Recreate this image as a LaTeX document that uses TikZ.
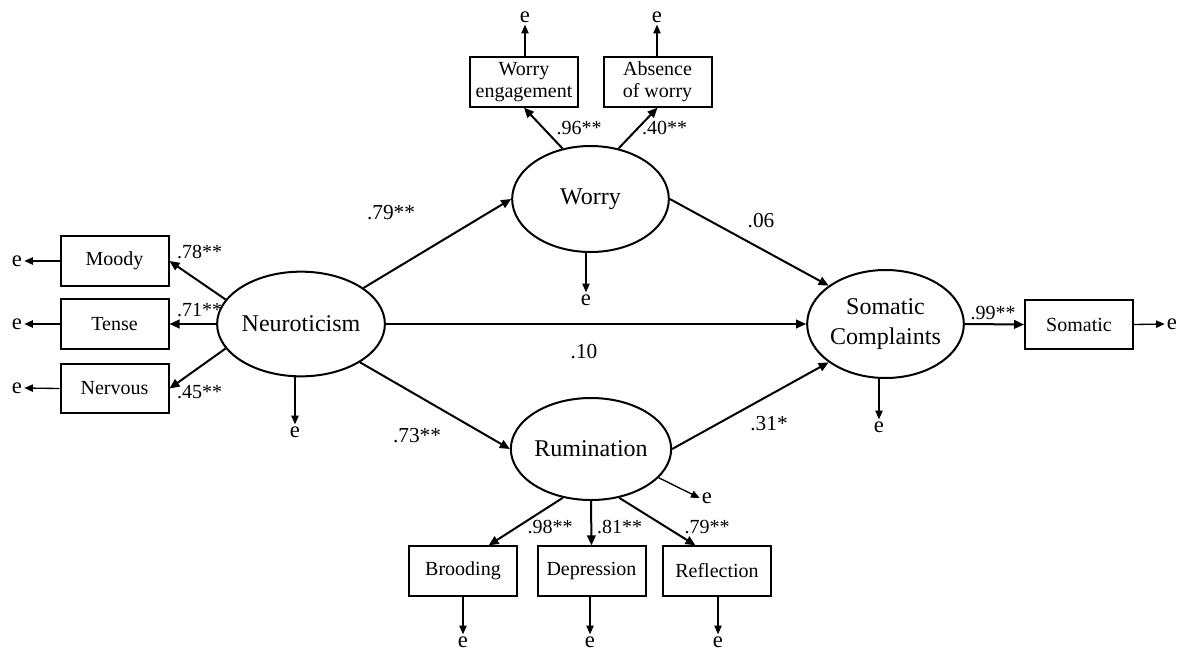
\documentclass[tikz,border=0pt]{standalone}
\usepackage{fontspec}
\setmainfont{Liberation Serif}
\usetikzlibrary{arrows.meta,shapes.geometric}
\begin{document}
\begin{tikzpicture}[x=0.75pt,y=-0.75pt,
 lat/.style={ellipse,draw,line width=1.5pt,minimum width=117.5pt,minimum height=78.5pt,inner sep=0pt,font=\fontsize{18}{22}\selectfont,align=center},
 obs/.style={rectangle,draw,line width=1.5pt,minimum width=81pt,minimum height=37pt,inner sep=0pt,font=\fontsize{15}{16.5}\selectfont,align=center},
 sem/.style={line width=1.5pt,-{Triangle[length=7.5pt,width=6.5pt]}},
 semthin/.style={line width=1.2pt,-{Triangle[length=7.5pt,width=6.5pt]}},
 err/.style={line width=1pt,-{Triangle[length=6.5pt,width=5.5pt]}},
 enode/.style={inner sep=1.5pt,font=\fontsize{17}{17}\selectfont},
 coef/.style={inner sep=0pt,font=\fontsize{15}{15}\selectfont},
 scoef/.style={inner sep=0pt,font=\fontsize{16}{16}\selectfont}]
\useasboundingbox (0,0) rectangle (1183,651);

% latent variables
\node[lat] (neu) at (301,324) {Neuroticism};
\node[lat,minimum height=79.5pt] (wor) at (590.5,199) {Worry};
\node[lat,minimum height=76.5pt] (rum) at (591,449) {Rumination};
\node[lat,minimum height=81pt] (som) at (885.5,324) {Somatic\\Complaints};

% observed variables
\node[obs] (moody) at (114.5,261) {Moody};
\node[obs] (tense) at (114.5,324) {Tense};
\node[obs] (nerv) at (114.5,388.5) {Nervous};
\node[obs] (we) at (524,82) {Worry\\engagement};
\node[obs] (ab) at (657.5,82) {Absence\\of worry};
\node[obs] (bro) at (463,571) {Brooding};
\node[obs] (dep) at (591.5,571) {Depression};
\node[obs] (ref) at (717,571) {Reflection};
\node[obs] (somb) at (1079,324.5) {Somatic};

% error terms
\node[enode] (e1) at (17,261) {e};
\node[enode] (e2) at (17,324) {e};
\node[enode] (e3) at (17,388) {e};
\node[enode] (e4) at (525,17) {e};
\node[enode] (e5) at (657,17) {e};
\node[enode] (e6) at (295,432) {e};
\node[enode] (e7) at (586,300) {e};
\node[enode] (e8) at (879,427) {e};
\node[enode] (e9) at (1172,324) {e};
\node[enode] (e10) at (707,498) {e};
\node[enode] (e11) at (463,642) {e};
\node[enode] (e12) at (590,642) {e};
\node[enode] (e13) at (718,642) {e};

% structural paths
\draw[sem] (neu.30) -- (wor.west);
\draw[sem] (wor.east) -- (som.146);
\draw[semthin] (neu.east) -- (som.west);
\draw[sem] (neu.-33) -- (rum.west);
\draw[sem] (rum.east) -- (som.-146);

% measurement paths
\draw[sem] (neu.162) -- (moody.east);
\draw[sem] (neu.west) -- (tense.east);
\draw[sem] (neu.198) -- (nerv.east);
\draw[sem] (wor.119) -- (we.south);
\draw[sem] (wor.61) -- (ab.south);
\draw[sem] (rum.-120) -- (bro.45);
\draw[sem] (rum.south) -- (dep.north);
\draw[sem] (rum.-60) -- (ref.130);
\draw[sem] (som.east) -- (somb.west);

% error arrows
\draw[err] (moody.west) -- (e1.east);
\draw[err] (tense.west) -- (e2.east);
\draw[err] (nerv.west) -- (e3.east);
\draw[err] (we.north -| e4.south) -- (e4.south);
\draw[err] (ab.north -| e5.south) -- (e5.south);
\draw[err] (neu.south -| e6.north) -- (e6.north);
\draw[err] (wor.south -| e7.north) -- (e7.north);
\draw[err] (som.south -| e8.north) -- (e8.north);
\draw[err] (somb.east) -- (e9.west);
\draw[err] (rum.-23) -- (e10.west);
\draw[err] (bro.south) -- (e11.north);
\draw[err] (dep.south -| e12.north) -- (e12.north);
\draw[err] (ref.south -| e13.north) -- (e13.north);

% coefficients
\node[coef] at (199.5,252) {.78**};
\node[coef] at (199.5,310) {.71**};
\node[coef] at (199.5,392) {.45**};
\node[coef] at (579,128) {.96**};
\node[coef] at (664.5,128) {.40**};
\node[coef] at (550,527) {.98**};
\node[coef] at (619.5,527) {.81**};
\node[coef] at (707,527) {.79**};
\node[coef] at (993,313) {.99**};
\node[scoef] at (391,213) {.79**};
\node[scoef] at (761,221) {.06};
\node[scoef] at (584,352) {.10};
\node[scoef] at (417,436) {.73**};
\node[scoef] at (769,424) {.31*};
\end{tikzpicture}
\end{document}
